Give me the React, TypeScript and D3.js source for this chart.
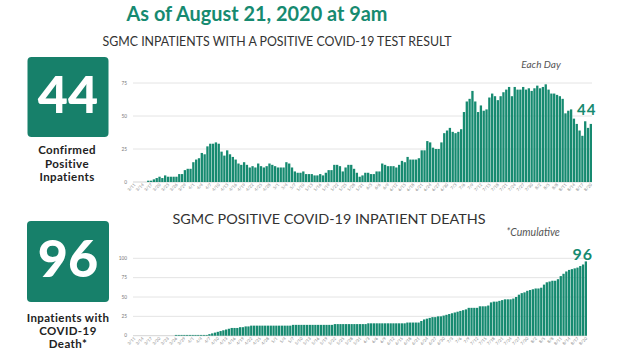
import React from "react";
import * as d3 from "d3";

const startDate = new Date(2020, 2, 11);
const endDate = new Date(2020, 7, 21);
const days: Date[] = d3.timeDay.range(startDate, endDate);
const fmt = d3.timeFormat("%-m/%-d");
const dayLabels: string[] = days.map((d) => fmt(d));

const inpatients: number[] = [
  0, 0, 0, 0, 0, 1, 1, 2, 3, 4, 3, 5, 4, 4, 4, 4, 6, 6, 9, 10,
  10, 15, 17, 18, 22, 21, 27, 29, 29, 30, 29, 23, 20, 24, 21, 19, 17, 14, 13, 15,
  13, 11, 12, 11, 14, 12, 11, 12, 14, 13, 12, 11, 11, 11, 15, 14, 11, 8, 7, 7,
  8, 6, 6, 6, 5, 5, 6, 5, 7, 9, 9, 13, 13, 12, 8, 11, 13, 13, 10, 7,
  4, 5, 7, 7, 6, 6, 8, 8, 14, 13, 12, 12, 12, 11, 13, 16, 15, 19, 17,
  17, 17, 18, 24, 24, 31, 30, 26, 25, 25, 30, 37, 39, 41, 38, 37, 38, 40, 53, 61,
  63, 69, 61, 53, 58, 54, 55, 64, 67, 65, 62, 65, 68, 70, 72, 65, 72, 70, 70, 72,
  70, 71, 69, 71, 73, 71, 72, 74, 70, 67, 67, 66, 65, 63, 52, 54, 55, 48, 44, 39,
  35, 46, 41, 44,
];

const deaths: number[] = [
  0, 0, 0, 0, 0, 0, 0, 0, 0, 0, 0, 0, 0, 0, 0, 1, 1, 1, 1, 1,
  1, 1, 1, 1, 1, 1, 1, 2, 3, 4, 5, 6, 7, 8, 9, 10, 10, 10, 11, 11,
  12, 12, 13, 13, 13, 13, 13, 13, 13, 13, 13, 13, 13, 13, 13, 13, 13, 14, 14, 14,
  14, 14, 14, 14, 14, 14, 14, 14, 14, 14, 14, 14, 15, 15, 15, 15, 15, 15, 15, 15,
  15, 15, 15, 15, 16, 16, 16, 16, 16, 16, 16, 16, 16, 16, 16, 16, 16, 16, 17, 17,
  17, 17, 17, 19, 21, 22, 23, 24, 24, 25, 25, 26, 27, 28, 29, 30, 31, 32, 33, 34,
  36, 36, 36, 36, 38, 38, 38, 39, 43, 44, 44, 45, 46, 47, 47, 47, 48, 50, 53, 55,
  56, 58, 59, 60, 61, 61, 62, 66, 69, 70, 71, 71, 73, 77, 80, 83, 85, 86, 87, 88,
  90, 92, 96,
];

const topTicks: number[] = [0, 25, 50, 75];
const bottomTicks: number[] = [0, 25, 50, 75, 100];

const TEAL = "#168a70";
const BOX = "#17806a";
const GRID = "#e4e4e4";
const FONT = "Lato, 'Open Sans', sans-serif";

type ChartProps = {
  values: number[];
  ticks: number[];
  x0: number;
  x1: number;
  yBase: number;
  yTop: number;
  yMax: number;
  endLabel: string;
  endLabelDx: number;
  endLabelY: number;
  endLabelSize: number;
};

function BarChart(p: ChartProps) {
  const x = d3.scaleBand<string>().domain(dayLabels).range([p.x0, p.x1]).paddingInner(0.18).paddingOuter(0);
  const y = d3.scaleLinear().domain([0, p.yMax]).range([p.yBase, p.yTop]);
  const lastIdx = p.values.length - 1;
  return (
    <g>
      {p.ticks.map((t) => (
        <g key={t}>
          <line x1={p.x0} x2={p.x1} y1={y(t)} y2={y(t)} stroke={t === 0 ? "#d4d4d4" : GRID} strokeWidth={1} />
          <text x={p.x0 - 6} y={y(t) + 1.7} fontSize={4.8} fill="#777" textAnchor="end" fontFamily={FONT}>
            {t}
          </text>
        </g>
      ))}
      {p.values.map((v, i) => (
        <rect key={i} x={x(dayLabels[i])} y={y(v)} width={x.bandwidth()} height={Math.max(0, p.yBase - y(v))} fill={TEAL} />
      ))}
      {dayLabels.map((lab, i) =>
        i % 3 === 0 ? (
          <text
            key={lab}
            transform={`translate(${(x(lab) as number) + x.bandwidth() / 2 + 1.5},${p.yBase + 3}) rotate(-45)`}
            fontSize={4.2}
            fill="#888"
            textAnchor="end"
            fontFamily={FONT}
          >
            {lab}
          </text>
        ) : null
      )}
      <text
        x={(x(dayLabels[lastIdx]) as number) + p.endLabelDx}
        y={p.endLabelY}
        fontSize={p.endLabelSize}
        fontWeight={700}
        letterSpacing={1}
        fill={TEAL}
        textAnchor="middle"
        fontFamily={FONT}
      >
        {p.endLabel}
      </text>
    </g>
  );
}

export default function App() {
  return (
    <svg width={622} height={352} style={{ position: "absolute", left: 0, top: 0, background: "#fff" }}>
      <text x={257} y={21} fontSize={20} fontWeight={700} fill={TEAL} textAnchor="middle" fontFamily={FONT} textLength={261} lengthAdjust="spacingAndGlyphs">
        As of August 21, 2020 at 9am
      </text>
      <text x={277} y={46} fontSize={12.5} fill="#333" textAnchor="middle" fontFamily={FONT} textLength={349} lengthAdjust="spacingAndGlyphs">
        SGMC INPATIENTS WITH A POSITIVE COVID-19 TEST RESULT
      </text>
      <text x={541} y={68} fontSize={10} fontStyle="italic" fill="#555" textAnchor="middle" fontFamily={FONT}>
        Each Day
      </text>

      <rect x={27.5} y={57} width={81} height={80} rx={4} fill={BOX} />
      <text x={68} y={113} fontSize={52} fontWeight={900} fill="#fff" textAnchor="middle" fontFamily={FONT}>
        44
      </text>
      <text textAnchor="middle" fontSize={11.5} fontWeight={700} fill="#222" fontFamily={FONT} letterSpacing={0.4}>
        <tspan x={67} y={154}>Confirmed</tspan>
        <tspan x={67} y={167.5}>Positive</tspan>
        <tspan x={67} y={181}>Inpatients</tspan>
      </text>

      <BarChart values={inpatients} ticks={topTicks} x0={133} x1={592} yBase={182} yTop={83} yMax={75} endLabel="44" endLabelDx={-3} endLabelY={115} endLabelSize={15} />

      <text x={329} y={224} fontSize={13.5} fill="#333" textAnchor="middle" fontFamily={FONT} textLength={313} lengthAdjust="spacingAndGlyphs">
        SGMC POSITIVE COVID-19 INPATIENT DEATHS
      </text>
      <text x={533} y={236} fontSize={10.5} fontStyle="italic" fill="#555" textAnchor="middle" fontFamily={FONT}>
        *Cumulative
      </text>

      <rect x={27} y={221} width={82} height={81} rx={4} fill={BOX} />
      <text x={68} y={277} fontSize={52} fontWeight={900} fill="#fff" textAnchor="middle" fontFamily={FONT}>
        96
      </text>
      <text textAnchor="middle" fontSize={11.5} fontWeight={700} fill="#222" fontFamily={FONT} letterSpacing={0.4}>
        <tspan x={68} y={322}>Inpatients with</tspan>
        <tspan x={68} y={335}>COVID-19</tspan>
        <tspan x={68} y={348}>Death*</tspan>
      </text>

      <BarChart values={deaths} ticks={bottomTicks} x0={133} x1={587} yBase={335.7} yTop={258.3} yMax={100} endLabel="96" endLabelDx={-2} endLabelY={260} endLabelSize={16} />
    </svg>
  );
}
